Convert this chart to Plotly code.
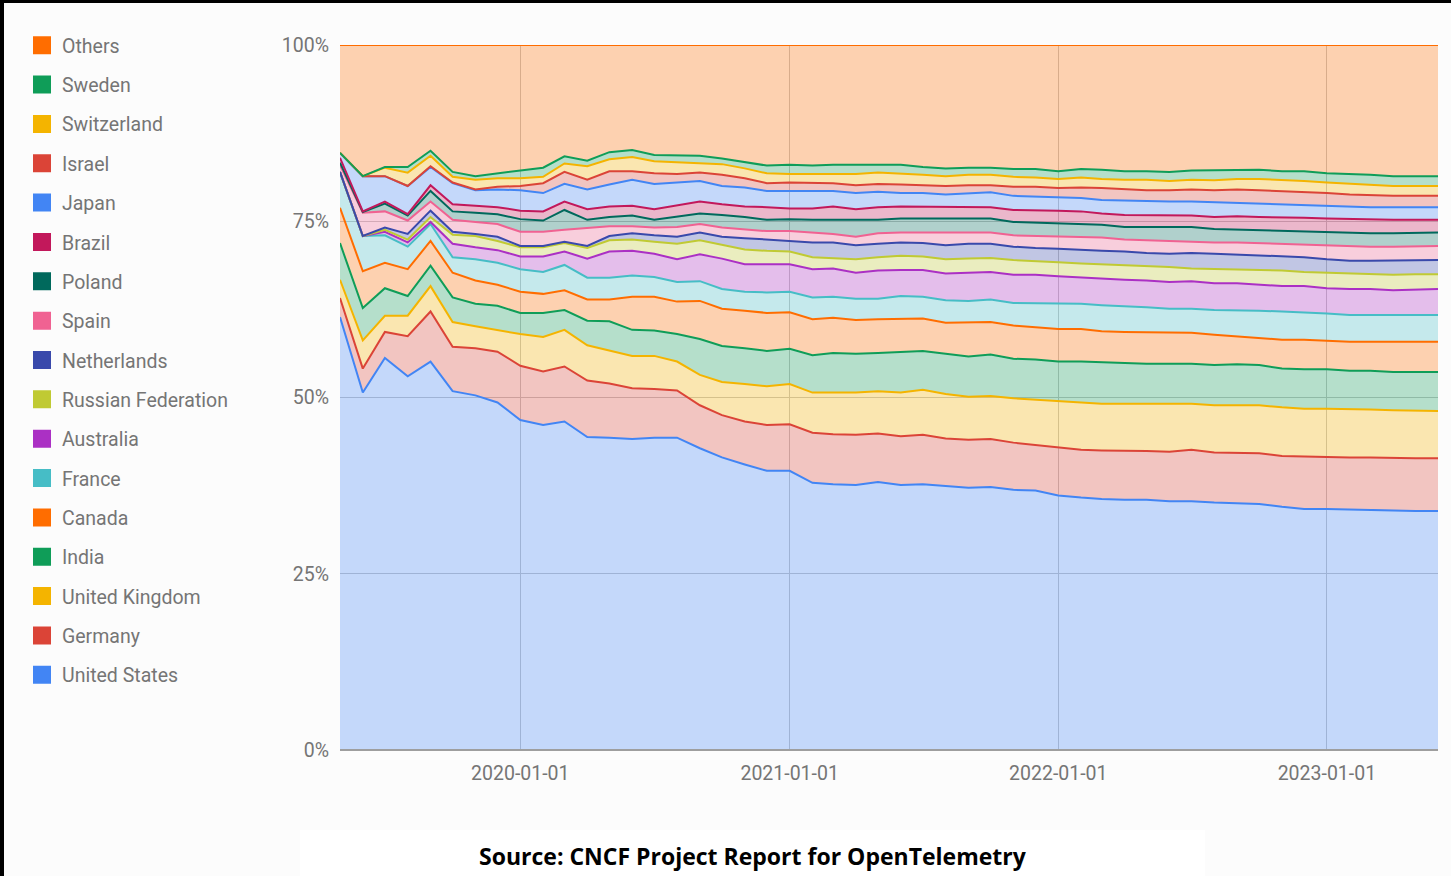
import pandas as pd
import plotly.graph_objects as go

# Monthly snapshots, 2019-05 .. 2023-06
months = [d.strftime("%Y-%m-%d") for d in pd.date_range("2019-05-01", periods=50, freq="MS")]

# Share of contributors (%), stacked bottom -> top
united_states = [61.4, 50.7, 55.6, 53.0, 55.1, 50.9, 50.3, 49.3, 46.8, 46.1,
                 46.6, 44.4, 44.3, 44.1, 44.3, 44.3, 42.8, 41.5, 40.5, 39.6,
                 39.6, 37.9, 37.7, 37.6, 38.0, 37.6, 37.7, 37.4, 37.2, 37.3,
                 36.9, 36.8, 36.1, 35.8, 35.6, 35.5, 35.5, 35.3, 35.3, 35.1,
                 35.0, 34.9, 34.5, 34.2, 34.2, 34.1, 34.0, 33.9, 33.9, 33.9]
germany = [2.7, 3.4, 3.7, 5.7, 7.1, 6.3, 6.7, 7.2, 7.7, 7.6,
           7.8, 8.0, 7.7, 7.2, 6.9, 6.7, 6.1, 6.0, 6.1, 6.5,
           6.6, 7.1, 7.1, 7.1, 6.9, 6.9, 7.0, 6.8, 6.8, 6.8,
           6.7, 6.5, 6.8, 6.8, 6.9, 7.0, 6.9, 7.0, 7.3, 7.1,
           7.2, 7.2, 7.2, 7.4, 7.4, 7.4, 7.5, 7.5, 7.5, 7.5]
united_kingdom = [2.6, 4.0, 2.3, 2.9, 3.6, 3.5, 3.1, 3.1, 4.5, 4.9,
                  5.2, 5.0, 4.7, 4.6, 4.7, 4.1, 4.3, 4.7, 5.3, 5.5,
                  5.7, 5.7, 5.9, 6.0, 6.0, 6.2, 6.4, 6.3, 6.1, 6.1,
                  6.3, 6.4, 6.5, 6.6, 6.6, 6.6, 6.7, 6.7, 6.5, 6.7,
                  6.7, 6.8, 6.9, 6.8, 6.8, 6.9, 6.8, 6.8, 6.8, 6.7]
india = [5.2, 4.6, 3.9, 2.8, 2.9, 3.5, 3.2, 3.4, 3.0, 3.4,
         2.8, 3.5, 4.1, 3.7, 3.6, 3.9, 5.1, 5.1, 5.1, 5.0,
         5.0, 5.3, 5.6, 5.5, 5.4, 5.8, 5.5, 5.7, 5.7, 5.9,
         5.6, 5.7, 5.7, 5.9, 5.9, 5.8, 5.7, 5.8, 5.7, 5.7,
         5.8, 5.7, 5.5, 5.6, 5.6, 5.4, 5.5, 5.4, 5.4, 5.5]
canada = [5.0, 5.2, 3.6, 3.8, 3.5, 3.5, 3.3, 3.0, 3.0, 2.7,
          2.8, 3.0, 3.1, 4.7, 4.8, 4.6, 5.4, 5.3, 5.3, 5.4,
          5.2, 5.1, 5.0, 4.8, 4.8, 4.7, 4.6, 4.4, 4.8, 4.6,
          4.7, 4.6, 4.6, 4.6, 4.4, 4.4, 4.5, 4.4, 4.4, 4.3,
          4.0, 3.9, 4.1, 4.2, 4.0, 4.1, 4.1, 4.3, 4.3, 4.3]
france = [5.1, 5.0, 3.9, 3.2, 2.4, 2.2, 3.0, 3.1, 3.2, 3.1,
          3.6, 3.1, 3.1, 3.0, 2.8, 2.8, 2.8, 2.8, 2.7, 2.9,
          2.9, 3.1, 3.0, 3.0, 2.9, 3.2, 3.1, 3.2, 3.1, 3.2,
          3.2, 3.4, 3.6, 3.6, 3.7, 3.7, 3.5, 3.4, 3.4, 3.5,
          3.7, 3.8, 4.0, 3.9, 3.9, 3.8, 3.8, 3.7, 3.8, 3.8]
australia = [0.0, 0.0, 0.5, 0.6, 0.3, 1.9, 1.7, 1.8, 1.8, 2.2,
             1.9, 2.7, 3.7, 3.5, 3.3, 3.2, 3.8, 4.3, 3.9, 4.0,
             3.9, 4.0, 4.0, 3.7, 4.0, 3.7, 3.8, 3.8, 4.0, 3.9,
             4.0, 4.0, 3.9, 3.7, 3.8, 3.7, 3.8, 3.8, 3.9, 3.8,
             3.8, 3.7, 3.6, 3.7, 3.6, 3.7, 3.7, 3.6, 3.6, 3.7]
russia = [0.0, 0.0, 0.3, 0.4, 0.7, 1.3, 1.6, 1.3, 1.3, 1.3,
          1.2, 1.5, 1.6, 1.6, 1.7, 2.2, 2.0, 2.0, 2.1, 1.9,
          1.8, 1.7, 1.5, 1.9, 1.9, 2.0, 1.9, 2.0, 2.0, 2.0,
          2.1, 2.0, 2.0, 2.0, 2.0, 2.0, 2.0, 2.1, 1.8, 2.0,
          2.0, 2.1, 2.2, 2.0, 2.2, 2.1, 2.1, 2.2, 2.2, 2.1]
netherlands = [0.0, 0.0, 0.3, 0.8, 0.9, 0.4, 0.3, 0.6, 0.2, 0.2,
               0.2, 0.3, 0.6, 0.9, 0.9, 1.0, 1.1, 1.1, 1.6, 1.6,
               1.6, 2.1, 2.2, 2.0, 1.9, 1.9, 1.9, 2.0, 2.1, 2.0,
               1.9, 1.8, 1.9, 1.9, 1.9, 2.0, 1.9, 1.9, 2.2, 2.2,
               2.1, 2.1, 2.0, 2.1, 1.9, 1.9, 1.9, 2.0, 1.9, 2.0]
spain = [1.0, 3.3, 2.3, 1.9, 1.3, 1.7, 1.7, 1.8, 2.0, 2.0,
         1.7, 2.5, 1.4, 1.0, 1.1, 1.4, 1.2, 1.3, 1.2, 1.2,
         1.3, 1.4, 1.2, 1.2, 1.5, 1.4, 1.5, 1.7, 1.6, 1.6,
         1.6, 1.7, 1.7, 1.8, 1.9, 1.7, 1.8, 1.8, 1.7, 1.6,
         1.7, 1.7, 1.8, 1.8, 1.9, 2.1, 2.0, 2.0, 2.0, 2.0]
poland = [0.3, 0.1, 1.1, 0.7, 1.5, 1.2, 1.3, 1.4, 1.8, 1.6,
          2.8, 1.2, 1.3, 1.5, 1.1, 1.4, 1.5, 1.8, 1.8, 1.6,
          1.7, 1.8, 2.0, 2.3, 1.9, 2.0, 2.0, 2.0, 2.0, 2.0,
          1.9, 1.9, 1.9, 1.9, 1.8, 1.8, 1.9, 1.9, 2.0, 1.9,
          1.8, 1.9, 1.9, 1.9, 2.0, 1.9, 1.9, 1.9, 1.9, 1.9]
brazil = [0.7, 0.1, 0.3, 0.2, 0.8, 1.0, 1.0, 1.0, 1.2, 1.3,
          1.2, 1.5, 1.5, 1.4, 1.5, 1.6, 1.7, 1.5, 1.5, 1.8,
          1.5, 1.6, 1.9, 1.6, 1.8, 1.7, 1.7, 1.7, 1.7, 1.6,
          1.7, 1.7, 1.8, 1.8, 1.6, 1.7, 1.7, 1.8, 1.6, 1.7,
          1.9, 1.8, 1.9, 1.9, 1.9, 1.9, 1.9, 1.9, 1.9, 1.8]
japan = [0.7, 5.0, 3.6, 4.0, 2.6, 3.0, 2.2, 2.5, 2.9, 2.6,
         2.5, 2.8, 3.1, 3.7, 3.6, 3.3, 2.9, 2.6, 2.7, 2.3,
         2.5, 2.5, 2.2, 2.3, 2.2, 1.9, 1.9, 1.8, 1.9, 2.1,
         2.0, 2.0, 1.8, 1.9, 1.9, 2.0, 1.9, 1.9, 2.0, 2.1,
         1.9, 1.8, 1.7, 1.7, 1.8, 1.7, 1.8, 1.8, 1.8, 1.8]
israel = [0.0, 0.0, 0.0, 0.0, 0.1, 0.1, 0.1, 0.4, 0.6, 1.4,
          1.7, 1.4, 1.9, 1.2, 1.5, 1.2, 1.2, 1.6, 1.3, 1.1,
          1.2, 1.1, 1.1, 1.1, 1.1, 1.2, 1.1, 1.2, 1.1, 1.0,
          1.3, 1.4, 1.4, 1.5, 1.7, 1.6, 1.6, 1.6, 1.7, 1.7,
          1.9, 2.0, 2.0, 2.0, 1.8, 1.8, 1.7, 1.6, 1.6, 1.6]
switzerland = [0.0, 0.0, 1.2, 1.9, 1.5, 0.8, 1.4, 1.2, 1.1, 0.9,
               1.2, 1.9, 1.7, 2.0, 1.7, 1.7, 1.4, 1.5, 1.4, 1.4,
               1.2, 1.3, 1.4, 1.6, 1.6, 1.6, 1.5, 1.4, 1.5, 1.5,
               1.4, 1.3, 1.3, 1.4, 1.3, 1.4, 1.5, 1.3, 1.4, 1.4,
               1.5, 1.6, 1.6, 1.5, 1.5, 1.5, 1.5, 1.4, 1.4, 1.4]
sweden = [0.0, 0.0, 0.1, 0.8, 0.7, 0.7, 0.5, 0.7, 1.1, 1.3,
          1.0, 0.8, 1.0, 1.0, 0.9, 0.9, 1.0, 0.8, 0.9, 1.1,
          1.3, 1.2, 1.2, 1.3, 1.1, 1.2, 1.1, 1.1, 1.0, 1.0,
          1.1, 1.2, 1.1, 1.2, 1.3, 1.2, 1.2, 1.3, 1.3, 1.4,
          1.3, 1.3, 1.2, 1.4, 1.3, 1.4, 1.4, 1.4, 1.4, 1.4]
others = [15.3, 18.6, 17.3, 17.3, 15.0, 18.0, 18.6, 18.2, 17.8, 17.4,
          15.8, 16.4, 15.2, 14.9, 15.6, 15.7, 15.7, 16.1, 16.6, 17.1,
          17.0, 17.1, 17.0, 17.0, 17.0, 17.0, 17.3, 17.5, 17.4, 17.4,
          17.6, 17.6, 17.9, 17.6, 17.7, 17.9, 17.9, 18.0, 17.8, 17.8,
          17.7, 17.7, 17.9, 17.9, 18.2, 18.3, 18.4, 18.6, 18.6, 18.6]

series_names = ["United States", "Germany", "United Kingdom", "India", "Canada",
                "France", "Australia", "Russian Federation", "Netherlands", "Spain",
                "Poland", "Brazil", "Japan", "Israel", "Switzerland", "Sweden", "Others"]
series_values = [united_states, germany, united_kingdom, india, canada,
                 france, australia, russia, netherlands, spain,
                 poland, brazil, japan, israel, switzerland, sweden, others]
series_colors = ["#4285F4", "#DB4437", "#F4B400", "#0F9D58", "#FF6D00",
                 "#46BDC6", "#AB30C4", "#C0CA33", "#3949AB", "#F06292",
                 "#00695C", "#C2185B", "#4285F4", "#DB4437", "#F4B400",
                 "#0F9D58", "#FF6D00"]
y_ticks = [0, 25, 50, 75, 100]
y_tick_labels = ["0%", "25%", "50%", "75%", "100%"]
x_ticks = ["2020-01-01", "2021-01-01", "2022-01-01", "2023-01-01"]


def rgba(hex_color, a):
    h = hex_color.lstrip("#")
    r, g, b = int(h[0:2], 16), int(h[2:4], 16), int(h[4:6], 16)
    return f"rgba({r},{g},{b},{a})"


fig = go.Figure()
for name, vals, col in zip(series_names, series_values, series_colors):
    fig.add_trace(go.Scatter(
        x=months, y=vals, name=name, mode="lines",
        stackgroup="one", groupnorm="percent",
        line=dict(color=col, width=2),
        fillcolor=rgba(col, 0.3),
        showlegend=False, hoverinfo="x+y+name",
    ))

# legend entries (square swatches), top to bottom: Others ... United States
for name, col in reversed(list(zip(series_names, series_colors))):
    fig.add_trace(go.Scatter(
        x=[None], y=[None], name=name, mode="markers",
        marker=dict(symbol="square", size=16, color=col, line=dict(color=col, width=2)),
        legendgroup=name, showlegend=True,
    ))

W, H = 1451, 876
L, R, T, B = 340, 13, 45, 126
pw, ph = W - L - R, H - T - B


def px_x(x):
    return (x - L) / pw


def px_y(y):
    return (H - B - y) / ph


fig.update_layout(
    width=W, height=H,
    margin=dict(l=L, r=R, t=T, b=B),
    paper_bgcolor="#fcfcfc", plot_bgcolor="rgba(0,0,0,0)",
    font=dict(family="Roboto", color="#757575", size=19),
    showlegend=True,
    legend=dict(
        x=px_x(22), y=px_y(26), xanchor="left", yanchor="top",
        traceorder="grouped", tracegroupgap=11, maxheight=860,
        font=dict(family="Roboto", size=19.5, color="#757575"),
        bgcolor="rgba(0,0,0,0)", itemclick=False, itemdoubleclick=False,
    ),
    xaxis=dict(
        type="date", range=["2019-05-01", "2023-06-01"],
        tickvals=x_ticks, ticktext=x_ticks,
        showgrid=True, gridcolor="#c8c8c8", gridwidth=1,
        showline=False, zeroline=False, ticks="",
        ticklabelstandoff=9,
        tickfont=dict(family="Roboto", size=19.5, color="#757575"),
    ),
    yaxis=dict(
        range=[0, 100], tickvals=y_ticks, ticktext=y_tick_labels,
        showgrid=True, gridcolor="#c8c8c8", gridwidth=1,
        zeroline=False, showline=False, ticks="",
        ticklabelstandoff=10,
        tickfont=dict(family="Roboto", size=19.5, color="#757575"),
    ),
    shapes=[
        # baseline
        dict(type="line", xref="paper", yref="paper", x0=0, x1=1, y0=0, y1=0,
             line=dict(color="#9e9e9e", width=2), layer="above"),
        # caption box
        dict(type="rect", xref="paper", yref="paper",
             x0=px_x(300), x1=px_x(1205), y0=px_y(876), y1=px_y(830),
             fillcolor="#ffffff", line=dict(width=0), layer="below"),
        # black frame edges of the screenshot
        dict(type="rect", xref="paper", yref="paper",
             x0=px_x(0), x1=px_x(W), y0=px_y(3), y1=px_y(0),
             fillcolor="#000000", line=dict(width=0), layer="above"),
        dict(type="rect", xref="paper", yref="paper",
             x0=px_x(0), x1=px_x(4), y0=px_y(H), y1=px_y(0),
             fillcolor="#000000", line=dict(width=0), layer="above"),
    ],
    annotations=[
        dict(text="<b>Source: CNCF Project Report for OpenTelemetry</b>",
             xref="paper", yref="paper", x=px_x(753), y=px_y(856),
             xanchor="center", yanchor="middle", showarrow=False,
             font=dict(family="Open Sans", size=23, color="#000000")),
    ],
)

fig.write_html("out.html", config={"displayModeBar": False},
               post_script="document.body.style.margin='0';document.body.style.overflow='hidden';")
